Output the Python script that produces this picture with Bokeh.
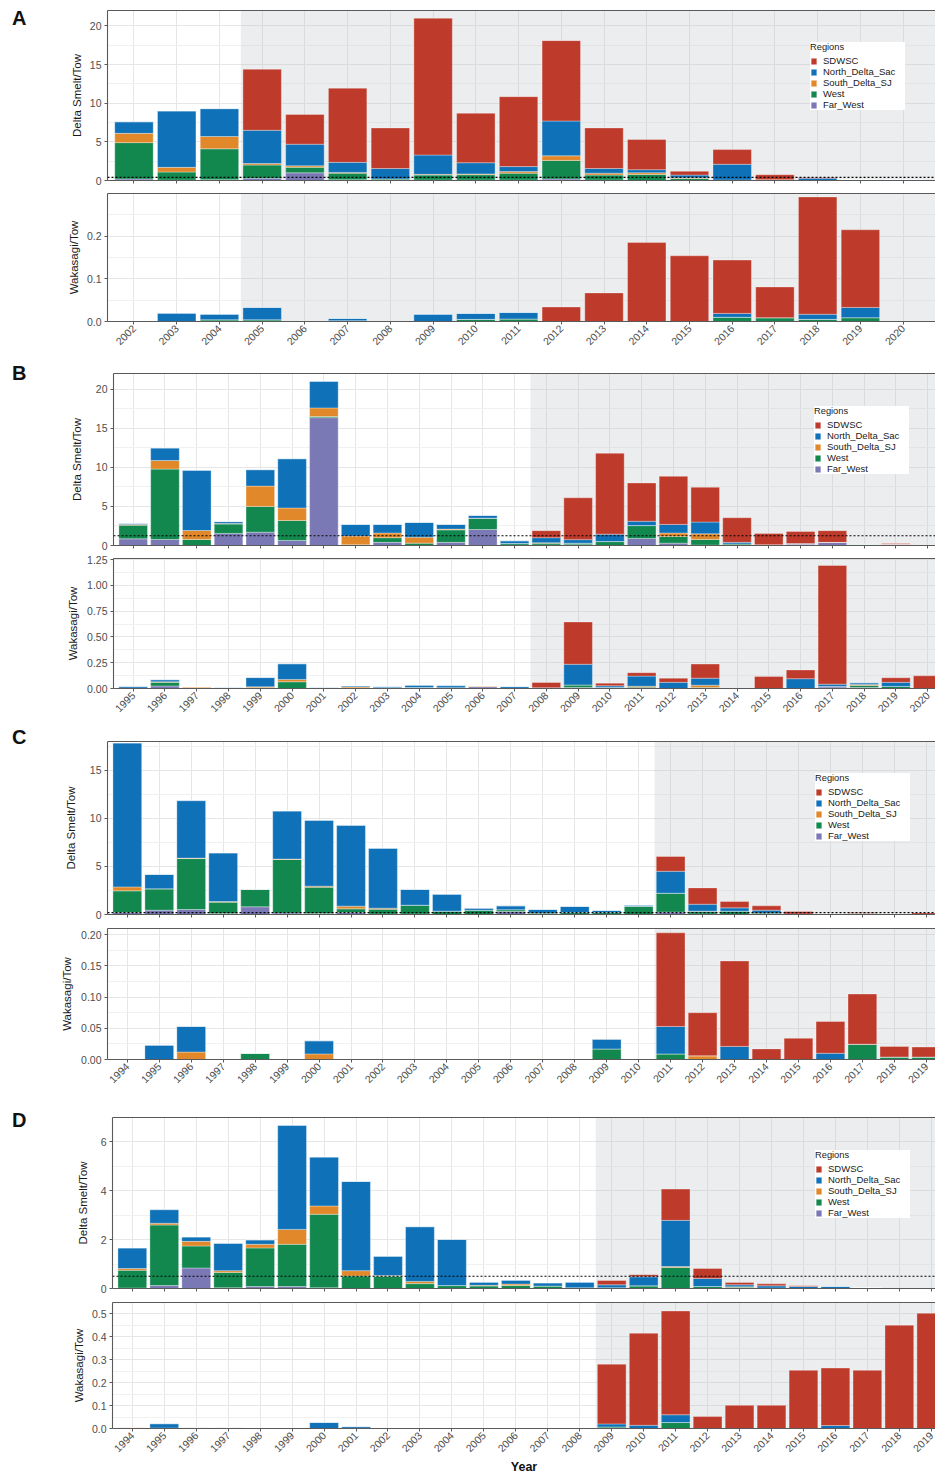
import math
from bokeh.plotting import figure
from bokeh.models import (ColumnDataSource, FixedTicker, LinearAxis, Range1d,
                          Span, Legend, LegendItem, Spacer, Div)
from bokeh.layouts import column, row
from bokeh.embed import file_html
from bokeh.resources import INLINE

# ---------------- data ----------------
regions = ["Far_West", "West", "South_Delta_SJ", "North_Delta_Sac", "SDWSC"]
legend_order = ["SDWSC", "North_Delta_Sac", "South_Delta_SJ", "West", "Far_West"]
region_colors = ["#7B78B6", "#12884F", "#E1882B", "#0F71B7", "#BE3A2B"]

# Panel A
years_a = [2002, 2003, 2004, 2005, 2006, 2007, 2008, 2009, 2010, 2011,
           2012, 2013, 2014, 2015, 2016, 2017, 2018, 2019, 2020]
smelt_a_far_west = [0.2, 0.05, 0.1, 0.3, 1.0, 0.1, 0, 0.05, 0.05, 0.05, 0.2, 0.05, 0, 0, 0, 0, 0, 0, 0]
smelt_a_west = [4.7, 1.05, 4.0, 1.7, 0.7, 0.85, 0.2, 0.65, 0.7, 0.9, 2.4, 0.65, 0.78, 0.25, 0.05, 0, 0, 0.12, 0]
smelt_a_sdsj = [1.2, 0.6, 1.6, 0.2, 0.2, 0.1, 0, 0.1, 0.1, 0.2, 0.6, 0.25, 0.22, 0.1, 0, 0.1, 0, 0, 0]
smelt_a_nds = [1.5, 7.3, 3.6, 4.3, 2.8, 1.3, 1.35, 2.5, 1.45, 0.65, 4.5, 0.6, 0.4, 0.35, 2.05, 0, 0.3, 0, 0.08]
smelt_a_sdwsc = [0, 0, 0, 7.9, 3.85, 9.6, 5.25, 17.7, 6.4, 9.05, 10.4, 5.25, 3.9, 0.5, 1.9, 0.65, 0.08, 0, 0]
waka_a_far_west = [0] * 19
waka_a_west = [0, 0, 0.004, 0.004, 0, 0.002, 0, 0, 0.005, 0.006, 0, 0, 0, 0, 0.01, 0.009, 0.005, 0.009, 0]
waka_a_sdsj = [0] * 19
waka_a_nds = [0, 0.0195, 0.013, 0.029, 0, 0.005, 0, 0.017, 0.014, 0.015, 0, 0, 0, 0, 0.009, 0, 0.012, 0.024, 0]
waka_a_sdwsc = [0, 0, 0, 0, 0, 0, 0, 0, 0, 0, 0.034, 0.067, 0.185, 0.154, 0.125, 0.072, 0.275, 0.182, 0]

# Panel B
years_b = [1995, 1996, 1997, 1998, 1999, 2000, 2001, 2002, 2003, 2004, 2005, 2006, 2007,
           2008, 2009, 2010, 2011, 2012, 2013, 2014, 2015, 2016, 2017, 2018, 2019, 2020]
smelt_b_far_west = [0.85, 0.77, 0, 1.55, 1.7, 0.65, 16.35, 0, 0.4, 0, 0.4, 2.05, 0.05, 0.05, 0.1, 0, 0.9, 0.3, 0.05, 0, 0, 0.2, 0.4, 0, 0.15, 0]
smelt_b_west = [1.75, 9.0, 0.77, 1.2, 3.3, 2.55, 0.15, 0.1, 0.6, 0.3, 1.6, 1.4, 0.2, 0.25, 0.2, 0.5, 1.65, 0.85, 0.72, 0.2, 0.1, 0, 0, 0.15, 0, 0]
smelt_b_sdsj = [0.1, 1.1, 1.15, 0.05, 2.6, 1.6, 1.1, 1.1, 0.6, 0.77, 0.1, 0.05, 0, 0.05, 0, 0, 0, 0.45, 0.73, 0, 0, 0, 0, 0, 0, 0]
smelt_b_nds = [0.1, 1.6, 7.7, 0.25, 2.1, 6.3, 3.4, 1.5, 1.1, 1.88, 0.6, 0.35, 0.35, 0.65, 0.45, 0.95, 0.55, 1.1, 1.5, 0.2, 0, 0.05, 0, 0, 0, 0]
smelt_b_sdwsc = [0, 0, 0, 0, 0, 0, 0, 0, 0, 0, 0, 0, 0, 0.9, 5.35, 10.35, 4.9, 6.15, 4.45, 3.15, 1.45, 1.55, 1.5, 0, 0.1, 0]
waka_b_far_west = [0.005, 0.025, 0, 0, 0, 0, 0, 0.005, 0, 0, 0, 0.018, 0, 0, 0.01, 0, 0, 0, 0, 0, 0, 0, 0.015, 0.01, 0, 0]
waka_b_west = [0, 0.035, 0.003, 0, 0.008, 0.065, 0, 0, 0.008, 0.01, 0.008, 0, 0, 0, 0.025, 0.01, 0.012, 0, 0.01, 0, 0, 0, 0.005, 0.02, 0.02, 0]
waka_b_sdsj = [0, 0.005, 0.012, 0, 0.008, 0.023, 0, 0.01, 0, 0, 0, 0.007, 0, 0, 0, 0, 0.01, 0, 0.022, 0, 0, 0, 0, 0.008, 0, 0]
waka_b_nds = [0.015, 0.02, 0, 0.007, 0.09, 0.152, 0.007, 0.01, 0.01, 0.022, 0.02, 0, 0.018, 0.008, 0.2, 0.016, 0.098, 0.06, 0.068, 0, 0, 0.095, 0.022, 0.017, 0.04, 0]
waka_b_sdwsc = [0, 0, 0, 0, 0, 0, 0, 0, 0, 0, 0, 0, 0, 0.05, 0.41, 0.026, 0.033, 0.04, 0.137, 0, 0.117, 0.085, 1.15, 0, 0.044, 0.123]

# Panel C
years_c = [1994, 1995, 1996, 1997, 1998, 1999, 2000, 2001, 2002, 2003, 2004, 2005, 2006,
           2007, 2008, 2009, 2010, 2011, 2012, 2013, 2014, 2015, 2016, 2017, 2018, 2019]
smelt_c_far_west = [0.2, 0.45, 0.52, 0.1, 0.8, 0.15, 0.1, 0.2, 0.05, 0.05, 0, 0, 0.3, 0, 0, 0, 0, 0.25, 0.05, 0, 0, 0, 0, 0, 0, 0]
smelt_c_west = [2.26, 2.22, 5.3, 1.18, 1.8, 5.57, 2.74, 0.39, 0.5, 0.92, 0.35, 0.45, 0.2, 0.15, 0.2, 0.2, 0.85, 1.97, 0.25, 0.35, 0.15, 0.06, 0.08, 0.12, 0.1, 0]
smelt_c_sdsj = [0.41, 0, 0.05, 0.07, 0, 0.05, 0.11, 0.28, 0.11, 0, 0, 0, 0, 0, 0, 0, 0, 0, 0.05, 0, 0, 0, 0, 0, 0, 0]
smelt_c_nds = [14.98, 1.49, 5.98, 5.06, 0.02, 5.0, 6.85, 8.41, 6.23, 1.63, 1.76, 0.21, 0.4, 0.37, 0.63, 0.22, 0.12, 2.28, 0.72, 0.34, 0.3, 0, 0, 0, 0, 0]
smelt_c_sdwsc = [0, 0, 0, 0, 0, 0, 0, 0, 0, 0, 0, 0, 0, 0, 0, 0, 0, 1.53, 1.7, 0.66, 0.45, 0.25, 0, 0.08, 0, 0.15]
waka_c_far_west = [0] * 26
waka_c_west = [0, 0, 0, 0, 0.01, 0, 0, 0, 0, 0, 0, 0, 0, 0, 0, 0.017, 0, 0.009, 0, 0, 0, 0, 0, 0.0245, 0.004, 0.004]
waka_c_sdsj = [0, 0, 0.012, 0, 0, 0, 0.009, 0, 0, 0, 0, 0, 0, 0, 0, 0, 0, 0, 0.006, 0, 0, 0, 0, 0, 0, 0]
waka_c_nds = [0, 0.023, 0.041, 0, 0, 0, 0.021, 0, 0, 0, 0, 0, 0, 0, 0, 0.0155, 0, 0.044, 0, 0.021, 0, 0, 0.01, 0, 0, 0]
waka_c_sdwsc = [0, 0, 0, 0, 0, 0, 0, 0, 0, 0, 0, 0, 0, 0, 0, 0, 0, 0.15, 0.069, 0.137, 0.017, 0.034, 0.051, 0.0805, 0.017, 0.016]

# Panel D
years_d = [1994, 1995, 1996, 1997, 1998, 1999, 2000, 2001, 2002, 2003, 2004, 2005, 2006,
           2007, 2008, 2009, 2010, 2011, 2012, 2013, 2014, 2015, 2016, 2017, 2018, 2019]
smelt_d_far_west = [0.02, 0.12, 0.84, 0.03, 0.08, 0.08, 0.03, 0, 0, 0, 0, 0, 0, 0, 0, 0, 0, 0, 0, 0, 0, 0, 0, 0, 0, 0]
smelt_d_west = [0.73, 2.48, 0.9, 0.63, 1.58, 1.73, 3.01, 0.51, 0.5, 0.2, 0.12, 0.1, 0.12, 0.1, 0.03, 0.03, 0.11, 0.86, 0.08, 0.05, 0.02, 0, 0, 0.04, 0, 0]
smelt_d_sdsj = [0.07, 0.07, 0.19, 0.07, 0.15, 0.61, 0.34, 0.22, 0.03, 0.09, 0, 0.03, 0.06, 0, 0, 0, 0, 0.04, 0, 0.02, 0, 0, 0, 0, 0, 0]
smelt_d_nds = [0.84, 0.56, 0.18, 1.12, 0.18, 4.26, 2.0, 3.65, 0.79, 2.24, 1.89, 0.13, 0.16, 0.13, 0.23, 0.12, 0.37, 1.89, 0.33, 0.08, 0.09, 0.08, 0.08, 0, 0, 0]
smelt_d_sdwsc = [0, 0, 0, 0, 0, 0, 0, 0, 0, 0, 0, 0, 0, 0, 0, 0.18, 0.08, 1.28, 0.41, 0.1, 0.08, 0.03, 0, 0, 0, 0]
waka_d_far_west = [0] * 26
waka_d_west = [0, 0.002, 0.004, 0.004, 0, 0, 0, 0, 0, 0, 0, 0, 0, 0, 0, 0.007, 0, 0.026, 0, 0, 0, 0, 0, 0, 0, 0]
waka_d_sdsj = [0.004, 0, 0, 0, 0, 0, 0, 0, 0, 0, 0, 0, 0, 0, 0, 0, 0, 0, 0, 0, 0, 0, 0, 0, 0, 0]
waka_d_nds = [0, 0.019, 0, 0, 0, 0, 0.026, 0.008, 0, 0, 0, 0, 0, 0, 0, 0.013, 0.014, 0.034, 0, 0, 0, 0, 0.013, 0, 0, 0]
waka_d_sdwsc = [0, 0, 0, 0, 0, 0, 0, 0, 0, 0, 0, 0, 0, 0, 0, 0.261, 0.402, 0.453, 0.052, 0.101, 0.101, 0.254, 0.251, 0.254, 0.451, 0.503]

# axis ticks / labels
yt_smelt_ab = [0, 5, 10, 15, 20]
yl_smelt_ab = ["0", "5", "10", "15", "20"]
yt_smelt_c = [0, 5, 10, 15]
yl_smelt_c = ["0", "5", "10", "15"]
yt_smelt_d = [0, 2, 4, 6]
yl_smelt_d = ["0", "2", "4", "6"]
yt_waka_a = [0, 0.1, 0.2]
yl_waka_a = ["0.0", "0.1", "0.2"]
yt_waka_b = [0, 0.25, 0.5, 0.75, 1.0, 1.25]
yl_waka_b = ["0.00", "0.25", "0.50", "0.75", "1.00", "1.25"]
yt_waka_c = [0, 0.05, 0.1, 0.15, 0.2]
yl_waka_c = ["0.00", "0.05", "0.10", "0.15", "0.20"]
yt_waka_d = [0, 0.1, 0.2, 0.3, 0.4, 0.5]
yl_waka_d = ["0.0", "0.1", "0.2", "0.3", "0.4", "0.5"]

FONT = "Liberation Sans"
AX = "#5A5A5A"
W = 935
LW = 30  # width of the strip on the left that holds the panel letters


def make_panel(years, series, y_end, y_ticks, y_labels, y_title, shade_from,
               threshold, px_per_year, left, top, frame_h, bottom, ylab_standoff,
               show_xlabels, letter=None, letter_pad=0, legend_pos=None, x_title=None):
    fig_w = W - LW
    border_left = left - LW
    frame_w = W - left
    height = top + frame_h + bottom
    x0 = years[0] - 0.62
    x1 = x0 + frame_w / px_per_year
    p = figure(width=fig_w, height=height, x_range=Range1d(x0, x1),
               y_range=Range1d(0, y_end), output_backend="svg", toolbar_location=None,
               min_border_left=border_left, min_border_right=0, min_border_top=top,
               min_border_bottom=bottom, outline_line_color=None)
    p.xgrid.grid_line_color = "#E6E6E6"
    p.ygrid.grid_line_color = "#E6E6E6"
    p.ygrid.minor_grid_line_color = "#F1F1F1"

    p.quad(left=[shade_from], right=[x1 + 1], bottom=[0], top=[y_end],
           fill_color="#BCC2CA", fill_alpha=0.3, line_color=None)

    data = {"year": years}
    for r, s in zip(regions, series):
        data[r] = s
    src = ColumnDataSource(data)
    rends = p.vbar_stack(regions, x="year", width=0.9, source=src,
                         fill_color=region_colors, line_color="white",
                         line_alpha=0.55, line_width=0.6)

    if threshold is not None:
        p.add_layout(Span(location=threshold, dimension="width", line_color="black",
                          line_dash="2 2", line_width=1.1))

    xa = p.xaxis[0]
    ya = p.yaxis[0]
    for ax in (xa, ya):
        ax.axis_line_color = AX
        ax.axis_line_width = 1.1
        ax.major_tick_line_color = AX
        ax.major_tick_out = 3
        ax.major_tick_in = 0
        ax.minor_tick_line_color = None
        ax.major_label_text_color = "#4D4D4D"
        ax.major_label_text_font = FONT
        ax.major_label_text_font_size = "10.5px"
        ax.major_label_standoff = 2

    xa.ticker = FixedTicker(ticks=years)
    if show_xlabels:
        xa.major_label_overrides = {y: str(y) for y in years}
        xa.major_label_orientation = math.pi / 4
    else:
        xa.major_label_text_color = None
        xa.major_label_standoff = 0
    if x_title:
        xa.axis_label = x_title
        xa.axis_label_text_font = FONT
        xa.axis_label_text_font_style = "bold"
        xa.axis_label_text_font_size = "12.5px"
        xa.axis_label_text_color = "#111111"
        xa.axis_label_standoff = 1

    step = y_ticks[1] - y_ticks[0]
    ya.ticker = FixedTicker(ticks=y_ticks, minor_ticks=[t + step / 2 for t in y_ticks])
    ya.major_label_overrides = dict(zip(y_ticks, y_labels))
    ya.axis_label = y_title
    ya.axis_label_text_font = FONT
    ya.axis_label_text_font_style = "normal"
    ya.axis_label_text_font_size = "11.5px"
    ya.axis_label_text_color = "#1A1A1A"
    ya.axis_label_standoff = ylab_standoff

    top_ax = LinearAxis(ticker=FixedTicker(ticks=[]), axis_line_color=AX,
                        axis_line_width=1.1, major_tick_line_color=None,
                        minor_tick_line_color=None, major_label_text_color=None,
                        major_label_standoff=0, major_tick_out=0, major_tick_in=0)
    p.add_layout(top_ax, "above")

    if legend_pos:
        by_name = dict(zip(regions, rends))
        items = [LegendItem(label=n, renderers=[by_name[n]]) for n in legend_order]
        lx = legend_pos[0] - left
        ly = frame_h - legend_pos[1] - 68
        leg = Legend(items=items, location=(lx, ly), title="Regions",
                     title_text_font=FONT, title_text_font_size="9.3px",
                     title_text_font_style="normal", title_text_color="#1A1A1A",
                     title_standoff=3, label_text_font=FONT, label_text_font_size="9.5px",
                     label_text_color="#1A1A1A", glyph_width=7, glyph_height=8,
                     label_height=9, label_width=82, label_standoff=6, spacing=0,
                     padding=7, margin=0, border_line_color=None,
                     background_fill_color="white", background_fill_alpha=1)
        p.add_layout(leg)

    if letter:
        strip = Div(text=(f'<div style="padding:{letter_pad}px 0 0 12px;'
                          f"font-family:'Liberation Sans',Arial,sans-serif;"
                          f'font-weight:bold;font-size:20px;line-height:20px;'
                          f'color:#111111;">{letter}</div>'),
                    width=LW, height=height, margin=0)
    else:
        strip = Spacer(width=LW, height=height, margin=0)
    return row(strip, p, spacing=0)


items = []
# Panel A
items.append(make_panel(years_a, [smelt_a_far_west, smelt_a_west, smelt_a_sdsj, smelt_a_nds, smelt_a_sdwsc],
                        22, yt_smelt_ab, yl_smelt_ab, "Delta Smelt/Tow", 2004.5, 0.4, 42.73,
                        107, 10, 170, 6, 4, False, letter="A", letter_pad=8, legend_pos=(810, 32)))
items.append(make_panel(years_a, [waka_a_far_west, waka_a_west, waka_a_sdsj, waka_a_nds, waka_a_sdwsc],
                        0.3, yt_waka_a, yl_waka_a, "Wakasagi/Tow", 2004.5, None, 42.73,
                        107, 7, 128, 34, 4, True))
# Panel B
items.append(make_panel(years_b, [smelt_b_far_west, smelt_b_west, smelt_b_sdsj, smelt_b_nds, smelt_b_sdwsc],
                        22, yt_smelt_ab, yl_smelt_ab, "Delta Smelt/Tow", 2007.5, 1.25, 31.78,
                        113, 18, 172, 6, 10, False, letter="B", letter_pad=8, legend_pos=(814, 33)))
items.append(make_panel(years_b, [waka_b_far_west, waka_b_west, waka_b_sdsj, waka_b_nds, waka_b_sdwsc],
                        1.26, yt_waka_b, yl_waka_b, "Wakasagi/Tow", 2007.5, None, 31.78,
                        113, 7, 130, 34, 5, True))
# Panel C
items.append(make_panel(years_c, [smelt_c_far_west, smelt_c_west, smelt_c_sdsj, smelt_c_nds, smelt_c_sdwsc],
                        18, yt_smelt_c, yl_smelt_c, "Delta Smelt/Tow", 2010.5, 0.2, 31.96,
                        107, 19, 173, 6, 10, False, letter="C", letter_pad=5, legend_pos=(815, 32)))
items.append(make_panel(years_c, [waka_c_far_west, waka_c_west, waka_c_sdsj, waka_c_nds, waka_c_sdwsc],
                        0.21, yt_waka_c, yl_waka_c, "Wakasagi/Tow", 2010.5, None, 31.96,
                        107, 8, 131, 35, 5, True))
# Panel D
items.append(make_panel(years_d, [smelt_d_far_west, smelt_d_west, smelt_d_sdsj, smelt_d_nds, smelt_d_sdwsc],
                        7, yt_smelt_d, yl_smelt_d, "Delta Smelt/Tow", 2008.5, 0.5, 31.96,
                        112, 23, 171, 6, 9, False, letter="D", letter_pad=16, legend_pos=(815, 33)))
items.append(make_panel(years_d, [waka_d_far_west, waka_d_west, waka_d_sdsj, waka_d_nds, waka_d_sdwsc],
                        0.55, yt_waka_d, yl_waka_d, "Wakasagi/Tow", 2008.5, None, 31.96,
                        112, 8, 126, 48, 4, True, x_title="Year"))

layout = column(*items, spacing=0)
open("out.html", "w").write(file_html(layout, INLINE))
